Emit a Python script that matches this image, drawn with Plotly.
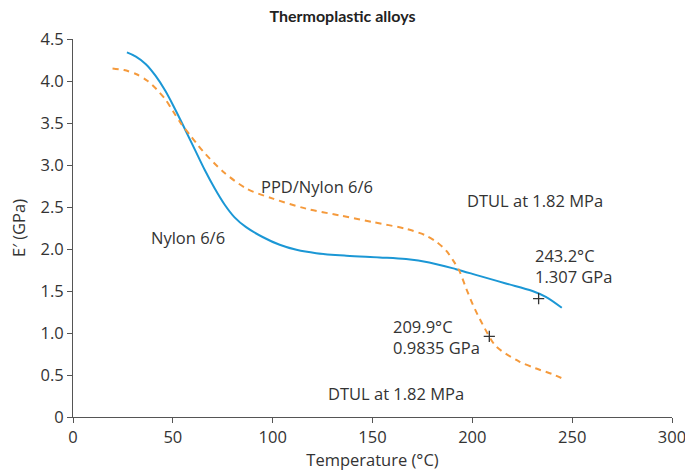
import plotly.graph_objects as go

# Nylon 6/6 (solid blue)
nylon_T = [27.0, 31.5, 36.5, 41.4, 46.3, 51.2, 56.2, 61.1, 66.0, 71.0, 75.9, 80.8, 86.7, 95.2, 103.5, 111.9, 121.8, 136.9, 153.5, 166.8, 178.4, 191.8, 203.5, 216.8, 230.1, 236.8, 244.8]
nylon_E = [4.34, 4.29, 4.20, 4.06, 3.88, 3.66, 3.42, 3.18, 2.94, 2.72, 2.53, 2.38, 2.26, 2.14, 2.05, 1.99, 1.95, 1.92, 1.90, 1.88, 1.84, 1.76, 1.68, 1.59, 1.50, 1.43, 1.30]

# PPD/Nylon 6/6 (dashed orange)
ppd_T = [19.8, 25.6, 31.8, 37.4, 41.9, 46.3, 50.1, 54.2, 58.5, 62.1, 66.0, 75.2, 86.8, 100.1, 116.8, 133.5, 150.2, 166.8, 176.8, 182.3, 186.9, 190.2, 193.5, 196.6, 200.2, 205.2, 211.9, 223.5, 231.6, 240.1, 245.0]
ppd_E = [4.15, 4.13, 4.08, 4.00, 3.90, 3.78, 3.64, 3.49, 3.36, 3.25, 3.14, 2.92, 2.72, 2.60, 2.48, 2.40, 2.32, 2.24, 2.16, 2.08, 1.98, 1.87, 1.74, 1.55, 1.34, 1.10, 0.84, 0.66, 0.58, 0.51, 0.46]

# DTUL markers
dtul_T = [233.2, 208.5]
dtul_E = [1.41, 0.96]

x_ticks = [0, 50, 100, 150, 200, 250, 300]
y_ticks = [0, 0.5, 1.0, 1.5, 2.0, 2.5, 3.0, 3.5, 4.0, 4.5]
y_ticktext = ["0", "0.5", "1.0", "1.5", "2.0", "2.5", "3.0", "3.5", "4.0", "4.5"]

FONT = "Open Sans"
FS = 16.5
TXT = "#333333"

fig = go.Figure()
fig.add_trace(go.Scatter(x=nylon_T, y=nylon_E, mode="lines",
                         line=dict(color="#1b97d5", width=2, shape="spline", smoothing=1),
                         showlegend=False))
fig.add_trace(go.Scatter(x=ppd_T, y=ppd_E, mode="lines",
                         line=dict(color="#f59a3c", width=2, dash="6px,5px", shape="spline", smoothing=0.8),
                         showlegend=False))
fig.add_trace(go.Scatter(x=dtul_T, y=dtul_E, mode="markers",
                         marker=dict(symbol="cross-thin", size=8, line=dict(color="#333333", width=1.3)),
                         showlegend=False))

annots = [
    (122.2, 2.74, "PPD/Nylon 6/6", "center"),
    (57.7, 2.14, "Nylon 6/6", "center"),
    (231.6, 2.58, "DTUL at 1.82 MPa", "center"),
    (230.5, 1.80, "243.2°C<br>1.307 GPa", "left"),
    (159.5, 0.95, "209.9°C<br>0.9835 GPa", "left"),
    (162, 0.28, "DTUL at 1.82 MPa", "center"),
]
for x, y, t, al in annots:
    fig.add_annotation(x=x, y=y, text=t, showarrow=False, xanchor=al, align="left",
                       font=dict(family=FONT, size=FS, color=TXT))

axis_common = dict(showgrid=False, zeroline=False, showline=True, linecolor="#555555", linewidth=1,
                   ticks="outside", ticklen=5, tickcolor="#555555", automargin=False,
                   tickfont=dict(family=FONT, size=FS, color=TXT))
fig.update_xaxes(range=[0, 300], tickvals=x_ticks, ticklabeloverflow="allow",
                 title=dict(text="Temperature (°C)", font=dict(family=FONT, size=FS, color=TXT), standoff=6),
                 **axis_common)
fig.update_yaxes(range=[0, 4.5], tickvals=y_ticks, ticktext=y_ticktext,
                 title=dict(text="E′ (GPa)", font=dict(family=FONT, size=FS, color=TXT), standoff=10),
                 **axis_common)
fig.update_layout(
    width=685, height=473,
    margin=dict(l=73, r=13, t=39, b=56, autoexpand=False),
    plot_bgcolor="white", paper_bgcolor="white",
    title=dict(text="<b>Thermoplastic alloys</b>", x=0.5, xanchor="center", y=0.965, yanchor="middle",
               font=dict(family="Lato", size=16, color="#222222")),
)
fig.write_html("out.html")
